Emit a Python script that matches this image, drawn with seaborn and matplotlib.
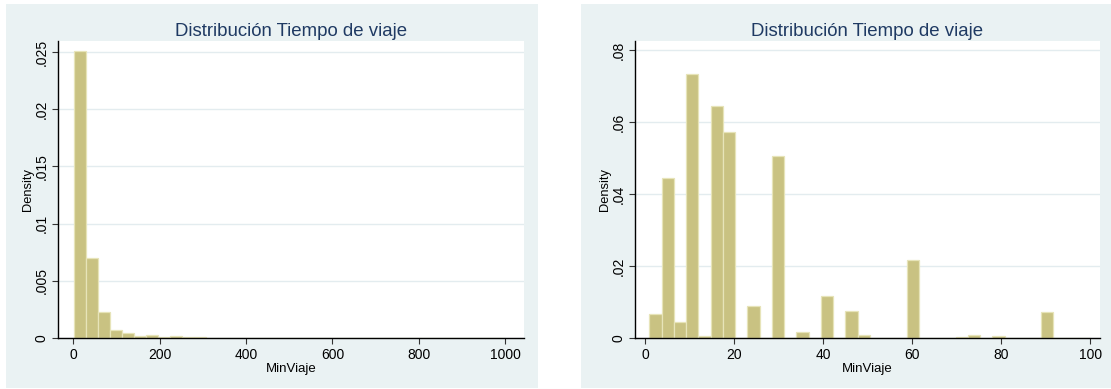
import numpy as np
import pandas as pd
import matplotlib
matplotlib.use("Agg")
import matplotlib.pyplot as plt
from matplotlib.patches import Rectangle
from matplotlib.ticker import FuncFormatter
import seaborn as sns

# Travel time histograms (density per bin)
# Full range: 36 bins starting at 1 minute, 27.75 min wide
full_start = 1.0
full_width = 27.75
full_density = [
    0.0251, 0.0070, 0.00225, 0.00067, 0.00047, 0.00015, 0.00024, 0.00006,
    0.00015, 0.00006, 0.00010, 0.0, 0.0, 0.00003, 0.00003, 0.0,
    0.0, 0.00003, 0.0, 0.0, 0.00002, 0.00002, 0.0, 0.0,
    0.0, 0.0, 0.00003, 0.0, 0.0, 0.0, 0.0, 0.0,
    0.0, 0.0, 0.0, 0.00002,
]
full_xticks = [0, 200, 400, 600, 800, 1000]
full_yticks = [0, 0.005, 0.01, 0.015, 0.02, 0.025]

# Trips up to 100 minutes: 36 bins starting at 1 minute, 2.75 min wide
short_start = 1.0
short_width = 2.75
short_density = [
    0.0066, 0.0444, 0.0045, 0.0733, 0.0005, 0.0644, 0.0572, 0.0,
    0.0088, 0.0, 0.0506, 0.0, 0.0016, 0.0, 0.0117, 0.0,
    0.0076, 0.0008, 0.0, 0.0, 0.0, 0.0217, 0.0, 0.0,
    0.0, 0.0004, 0.0007, 0.0, 0.0005, 0.0, 0.0001, 0.0,
    0.0072, 0.0, 0.0001, 0.0001,
]
short_xticks = [0, 20, 40, 60, 80, 100]
short_yticks = [0, 0.02, 0.04, 0.06, 0.08]

title = "Distribución Tiempo de viaje"
xlabel = "MinViaje"
ylabel = "Density"

sns.set_theme(style="white")
plt.rcParams["font.family"] = ["Liberation Sans", "DejaVu Sans"]

BG = "#EAF2F3"
GRID = "#E3ECEF"
BAR = "#C9C282"
BAR_EDGE = "#E7E4B9"
TITLE = "#1F3A63"

W, H = 1111, 389
fig = plt.figure(figsize=(W / 100, H / 100), dpi=100)
fig.patch.set_facecolor("white")


def px_box(x0, y0, x1, y1):
    return [x0 / W, 1 - y1 / H, (x1 - x0) / W, (y1 - y0) / H]


# Panel backgrounds, drawn underneath the axes
for box in (px_box(6, 4, 538, 388), px_box(581, 4, 1111, 388)):
    fig.patches.append(Rectangle((box[0], box[1]), box[2], box[3],
                                 transform=fig.transFigure, facecolor=BG,
                                 edgecolor="none", zorder=-10))


def fmt(v, pos):
    if abs(v) < 1e-12:
        return "0"
    s = f"{v:.3f}".rstrip("0")
    return s.lstrip("0")


def panel(box, start, width, dens, xlim, ylim, xticks, yticks):
    ax = fig.add_axes(box)
    ax.set_zorder(1)
    ax.set_facecolor("white")
    n = len(dens)
    centers = start + width * (np.arange(n) + 0.5)
    df = pd.DataFrame({xlabel: centers, "density": dens})
    sns.histplot(data=df, x=xlabel, weights="density", binwidth=width,
                 binrange=(start, start + width * n), stat="count", ax=ax,
                 color=BAR, edgecolor=BAR_EDGE, linewidth=0.9, alpha=1.0,
                 zorder=3)
    ax.set_xlim(*xlim)
    ax.set_ylim(*ylim)
    ax.set_xticks(xticks)
    ax.set_yticks(yticks)
    ax.yaxis.set_major_formatter(FuncFormatter(fmt))
    ax.yaxis.grid(True, color=GRID, linewidth=1.0, zorder=0)
    ax.xaxis.grid(False)
    ax.set_axisbelow(True)
    for side in ("top", "right"):
        ax.spines[side].set_visible(False)
    for side in ("left", "bottom"):
        ax.spines[side].set_color("black")
        ax.spines[side].set_linewidth(1.0)
        ax.spines[side].set_zorder(4)
    ax.tick_params(axis="both", direction="out", length=4, width=0.8,
                   color="#333333", labelsize=10, labelcolor="black",
                   bottom=True, left=True, pad=3)
    ax.tick_params(axis="y", labelrotation=90)
    for lab in ax.get_yticklabels():
        lab.set_verticalalignment("center")
    ax.set_title(title, color=TITLE, fontsize=13.4, pad=3.6)
    ax.set_xlabel(xlabel, fontsize=9.5, labelpad=1, color="black")
    ax.set_ylabel(ylabel, fontsize=9.3, labelpad=0, color="black")
    return ax


panel(px_box(58, 41, 524, 338), full_start, full_width, full_density,
      (-35, 1043), (0, 0.02596), full_xticks, full_yticks)
panel(px_box(635, 41, 1100, 338), short_start, short_width, short_density,
      (-2.25, 102.2), (0, 0.0825), short_xticks, short_yticks)

fig.savefig("out.png", dpi=100)
